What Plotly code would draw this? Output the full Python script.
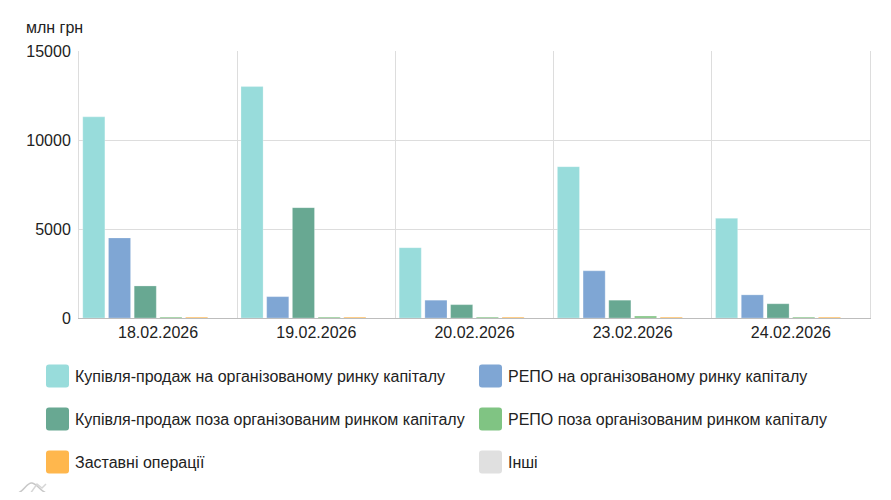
import plotly.graph_objects as go

dates = ["18.02.2026", "19.02.2026", "20.02.2026", "23.02.2026", "24.02.2026"]
series_names = [
    "Купівля-продаж на організованому ринку капіталу",
    "РЕПО на організованому ринку капіталу",
    "Купівля-продаж поза організованим ринком капіталу",
    "РЕПО поза організованим ринком капіталу",
    "Заставні операції",
    "Інші",
]
buy_sell_org = [11300, 13000, 3950, 8500, 5600]
repo_org = [4500, 1200, 1000, 2650, 1300]
buy_sell_otc = [1800, 6200, 750, 1000, 800]
repo_otc = [50, 50, 50, 110, 50]
pledge = [50, 50, 50, 50, 50]
other = [0, 0, 0, 0, 0]
y_ticks = [0, 5000, 10000, 15000]
unit_label = "млн грн"

colors = ["#98DCDB", "#7FA6D4", "#68A892", "#80C483", "#FFB74D", "#E0E0E0"]
values = [buy_sell_org, repo_org, buy_sell_otc, repo_otc, pledge, other]

OFF = 8  # page body margin
W, H = 891 - 2 * OFF, 500 - 2 * OFF
L, R, T, B = 79 - OFF, 870 - OFF, 51 - OFF, 318 - OFF
FONT = "Liberation Sans, Arial, sans-serif"

fig = go.Figure()
for name, vals, col in zip(series_names, values, colors):
    fig.add_trace(go.Bar(x=dates, y=vals, name=name,
                         marker=dict(color=col, line=dict(color="rgba(255,255,255,0.5)", width=0.5)),
                         showlegend=False))

def px_x(p):
    return (p - OFF - L) / (R - L)

def px_y(p):
    return (B - (p - OFF)) / (B - T)

def rounded_rect(x0, y0, x1, y1, r):
    pts = [
        ("M", x0 + r, y0), ("L", x1 - r, y0), ("Q", x1, y0, x1, y0 + r),
        ("L", x1, y1 - r), ("Q", x1, y1, x1 - r, y1), ("L", x0 + r, y1),
        ("Q", x0, y1, x0, y1 - r), ("L", x0, y0 + r), ("Q", x0, y0, x0 + r, y0),
    ]
    out = []
    for p in pts:
        cmd = p[0]
        coords = p[1:]
        conv = []
        for k in range(0, len(coords), 2):
            conv.append("{:.5f} {:.5f}".format(px_x(coords[k]), px_y(coords[k + 1])))
        out.append(cmd + " " + " ".join(conv))
    return " ".join(out) + " Z"

shapes = []
annotations = []
# custom legend
rows = [376, 419, 462]
cols = [46, 479]
for i, (name, col) in enumerate(zip(series_names, colors)):
    r, c = divmod(i, 2)
    cy = rows[r]
    x0 = cols[c]
    shapes.append(dict(type="path", xref="paper", yref="paper",
                       path=rounded_rect(x0, cy - 11.5, x0 + 23, cy + 11.5, 3),
                       fillcolor=col, line=dict(width=0), layer="above"))
    annotations.append(dict(xref="paper", yref="paper", x=px_x(x0 + 27), y=px_y(cy),
                            text=name, showarrow=False, xanchor="left", yanchor="middle",
                            font=dict(family=FONT, size=16, color="#222")))

annotations.append(dict(xref="paper", yref="paper", x=px_x(24), y=px_y(27), text=unit_label,
                        showarrow=False, xanchor="left", yanchor="middle",
                        font=dict(family=FONT, size=16, color="#222")))

# watermark logo
shapes.append(dict(type="line", xref="paper", yref="paper", x0=px_x(6), x1=px_x(60), y0=px_y(494), y1=px_y(494),
                   line=dict(color="#D0D0D0", width=1.5)))
shapes.append(dict(type="path", xref="paper", yref="paper",
                   path=("M {} {} C {} {} {} {} {} {} C {} {} {} {} {} {}".format(
                       px_x(14), px_y(494), px_x(24), px_y(494), px_x(26), px_y(482), px_x(32), px_y(483),
                       px_x(38), px_y(484), px_x(42), px_y(494), px_x(50), px_y(494))),
                   line=dict(color="#C8C8C8", width=1.5)))
shapes.append(dict(type="path", xref="paper", yref="paper",
                   path=("M {} {} L {} {} L {} {} L {} {}".format(
                       px_x(30), px_y(494), px_x(37), px_y(484), px_x(42), px_y(488), px_x(46), px_y(484))),
                   line=dict(color="#D6D6D6", width=1.5)))

fig.update_layout(
    width=W, height=H,
    margin=dict(l=L, r=W - R, t=T, b=H - B, autoexpand=False),
    paper_bgcolor="white", plot_bgcolor="white",
    barmode="group", bargap=0.025, bargroupgap=0.14,
    font=dict(family=FONT, size=16, color="#222"),
    xaxis=dict(type="category", tickson="boundaries", showgrid=True, gridcolor="#DDDDDD", gridwidth=1,
               showline=True, linecolor="#BDBDBD", linewidth=1, ticks="", tickfont=dict(size=16, color="#222"),
               range=[-0.5, 4.5]),
    yaxis=dict(range=[0, 15000], tickvals=y_ticks, ticktext=[str(v) for v in y_ticks],
               showgrid=True, gridcolor="#DDDDDD", gridwidth=1, zeroline=False,
               showline=True, mirror=True, linecolor="#DDDDDD", linewidth=1,
               tickfont=dict(size=16, color="#222"), ticklabelstandoff=4),
    shapes=shapes, annotations=annotations,
)

fig.write_html("out.html")
